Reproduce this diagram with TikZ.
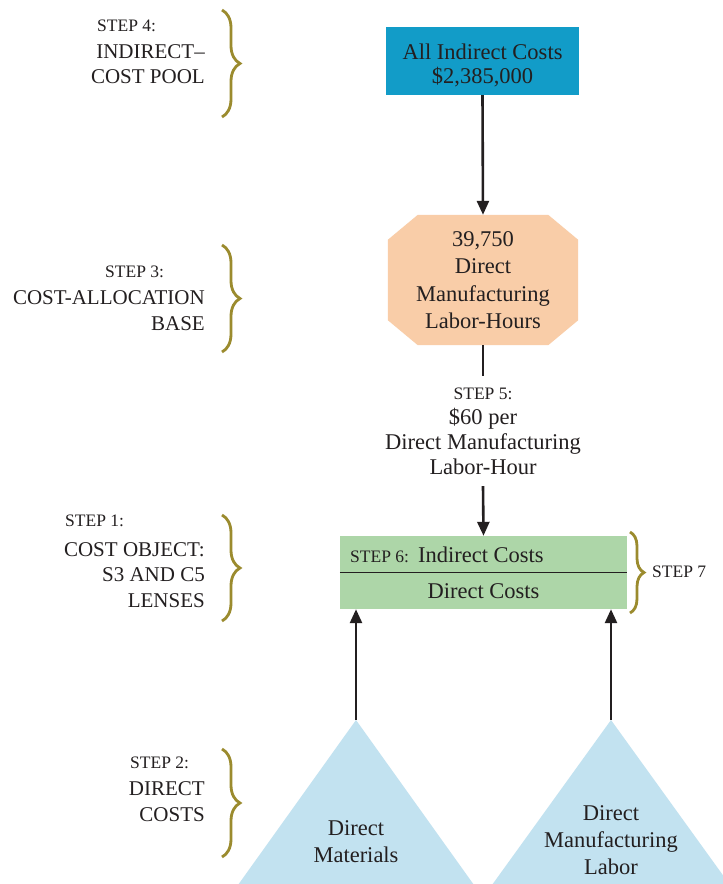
\documentclass[tikz,border=0pt]{standalone}
\usepackage{fontspec}
\setmainfont{Liberation Serif}
\usetikzlibrary{arrows.meta,decorations.pathreplacing,backgrounds}
\definecolor{ink}{HTML}{231F20}
\definecolor{poolblue}{HTML}{129CC8}
\definecolor{basefill}{HTML}{F9CDA8}
\definecolor{objgreen}{HTML}{ADD6A8}
\definecolor{trifill}{HTML}{C2E2F0}
\definecolor{braceolive}{HTML}{9B8B2E}
\newcommand{\mainsz}{\fontsize{22.5}{25}\selectfont}
\newcommand{\lblsz}{\fontsize{21}{25.5}\selectfont}
\newcommand{\stepsz}{\fontsize{17.5}{21}\selectfont}
\begin{document}
\begin{tikzpicture}[x=1pt,y=-1pt,
  every node/.style={text=ink, inner sep=0pt},
  conn/.style={draw=ink, line width=2.6pt, -{Triangle[length=14pt,width=12pt]}},
  plainconn/.style={draw=ink, line width=2.6pt},
  brc/.style={draw=braceolive, line width=2.8pt, decorate, decoration={brace, amplitude=#1}},
  brc/.default=18pt,
  mtext/.style={font=\mainsz, align=center},
  lbl/.style={font=\lblsz, align=right, anchor=east},
  stephead/.style={font=\stepsz, anchor=west}]
\useasboundingbox (0,0) rectangle (723,884);
\begin{scope}[on background layer]
\fill[white] (0,0) rectangle (723,884);
\end{scope}

% Step 4: pool
\node[fill=poolblue, minimum width=193pt, minimum height=68pt] (pool) at (482.5,61) {};
\node[mtext, font=\fontsize{22.5}{24}\selectfont] (pooltext) at (482.5,65.5) {All Indirect Costs\\\$2,385,000};

% Step 3: base (octagon)
\node[mtext, font=\fontsize{22.5}{27.3}\selectfont, minimum width=190pt, minimum height=130pt] (oct) at (483,280) {39,750\\Direct\\Manufacturing\\Labor-Hours};
\begin{scope}[on background layer]
\fill[basefill] ([xshift=30pt]oct.north west) -- ([xshift=-30pt]oct.north east)
  -- ([yshift=-25pt]oct.north east) -- ([yshift=25pt]oct.south east)
  -- ([xshift=-30pt]oct.south east) -- ([xshift=30pt]oct.south west)
  -- ([yshift=25pt]oct.south west) -- ([yshift=-25pt]oct.north west) -- cycle;
\end{scope}

% Step 5: rate
\node[mtext, minimum height=110pt] (s5) at (483,431) {{\stepsz STEP 5:}\\\$60 per\\Direct Manufacturing\\Labor-Hour};

% Cost object
\begin{scope}[on background layer]
\node[fill=objgreen, minimum width=287pt, minimum height=73pt] (cobj) at (483.5,572.5) {};
\end{scope}
\draw[ink, line width=1.3pt] (cobj.west) -- (cobj.east);
\node[anchor=west, font=\mainsz] (ind) at (350,555) {{\stepsz STEP 6:}\hspace{9pt}Indirect Costs};
\node[font=\mainsz] (dir) at (483.5,591) {Direct Costs};

% Triangles
\coordinate (dmtop) at (356,720);
\coordinate (dmltop) at (611,720);
\begin{scope}[on background layer]
\fill[trifill] (dmtop) -- (238,885) -- (474,885) -- cycle;
\fill[trifill] (dmltop) -- (492,885) -- (730,885) -- cycle;
\end{scope}
\node[mtext, font=\fontsize{22.5}{27}\selectfont] (dm) at (356,841.5) {Direct\\Materials};
\node[mtext, font=\fontsize{22.5}{27}\selectfont] (dml) at (611,840) {Direct\\Manufacturing\\Labor};

% Connectors
\draw[conn] (pool.south) -- (oct.north);
\draw[plainconn] (oct.south) -- (s5.north);
\draw[conn] (s5.south) -- (cobj.north);
\draw[conn] (dmtop) -- (dmtop |- cobj.south);
\draw[conn] (dmltop) -- (dmltop |- cobj.south);

% Left labels
\node[stephead] (h4) at (97,26) {STEP 4:};
\node[lbl] (b4) at (205,64) {INDIRECT\textendash\\COST POOL};
\node[stephead] (h3) at (105,272) {STEP 3:};
\node[lbl] (b3) at (205,310.5) {COST-ALLOCATION\\BASE};
\node[stephead] (h1) at (65,521) {STEP 1:};
\node[lbl] (b1) at (205,575) {COST OBJECT:\\S3 AND C5\\LENSES};
\node[stephead] (h2) at (130,763) {STEP 2:};
\node[lbl] (b2) at (205,801.5) {DIRECT\\COSTS};

% Braces
\draw[brc] (222,10) -- (222,117);
\draw[brc] (222,245) -- (222,352);
\draw[brc] (222,515) -- (222,621);
\draw[brc] (222,749) -- (222,857);
\draw[brc=14pt] (630,532) -- (630,613);
\node[stephead] (s7) at (652,572) {STEP 7};
\end{tikzpicture}
\end{document}
